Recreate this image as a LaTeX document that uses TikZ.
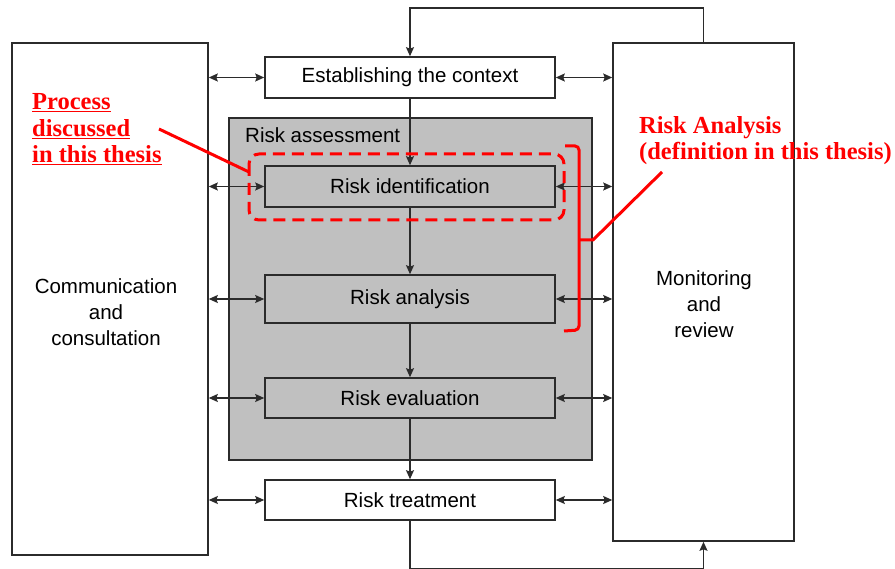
\documentclass[tikz,border=0pt]{standalone}
\usepackage{fontspec}
\setmainfont{Liberation Sans}
\newfontfamily\thesisfont{Liberation Serif}
\usetikzlibrary{arrows.meta}
\definecolor{boxline}{HTML}{2B2B2B}
\definecolor{assessgray}{HTML}{C0C0C0}
\definecolor{notered}{HTML}{FF0000}
\tikzset{
  frame/.style={draw=boxline, line width=1.6pt, fill=white, inner sep=0pt},
  procbox/.style={frame, minimum width=290pt, font=\fontsize{20.5}{24}\selectfont},
  graybox/.style={procbox, fill=assessgray},
  sidetext/.style={align=center, inner sep=0pt, font=\fontsize{20.5}{26}\selectfont},
  flow/.style={draw=boxline, line width=1.5pt, -{Stealth[length=9pt,width=8pt,inset=1.5pt]}},
  both/.style={draw=boxline, line width=1.5pt, {Stealth[length=9pt,width=8pt,inset=1.5pt]}-{Stealth[length=9pt,width=8pt,inset=1.5pt]}},
  redline/.style={draw=notered, line width=3pt},
  rednote/.style={text=notered, inner sep=0pt, align=left, font=\thesisfont\bfseries\fontsize{24.5}{26.5}\selectfont},
}
\begin{document}
\begin{tikzpicture}[x=1pt,y=-1pt]
\useasboundingbox (0,0) rectangle (895,569);
% side boxes
\node[frame, minimum width=196pt, minimum height=512pt] (comm) at (110,299) {};
\node[frame, minimum width=181pt, minimum height=498pt] (mon) at (703.5,292) {};
\node[sidetext, anchor=base] (commtxt) at (106,346) {Communication\\and\\consultation};
\node[sidetext, anchor=base] (montxt) at (704,338) {Monitoring\\and\\review};
% risk assessment area
\node[frame, fill=assessgray, minimum width=363pt, minimum height=342pt] (assess) at (410.5,289) {};
\node[anchor=base west, inner sep=0pt, font=\fontsize{20.5}{24}\selectfont] (assesstxt) at (245,143) {Risk assessment};
% process boxes
\node[procbox, minimum height=41pt] (est) at (410,77.5) {Establishing the context};
\node[graybox, minimum height=41pt] (ident) at (410,186.5) {Risk identification};
\node[graybox, minimum height=48pt] (anal) at (410,299) {Risk analysis};
\node[graybox, minimum height=40pt] (eval) at (410,398) {Risk evaluation};
\node[procbox, minimum height=40pt] (treat) at (410,500) {Risk treatment};
% vertical flow
\draw[flow] (est.south) -- (ident.north);
\draw[flow] (ident.south) -- (anal.north);
\draw[flow] (anal.south) -- (eval.north);
\draw[flow] (eval.south) -- (treat.north);
\draw[flow] (mon.north) -- ++(0,-34) -| (est.north);
\draw[flow] (treat.south) -- ++(0,48) -| (mon.south);
% side connections
\foreach \b in {est,ident,anal,eval,treat}{
  \draw[both] (comm.east |- \b.west) -- (\b.west);
  \draw[both] (\b.east) -- (mon.west |- \b.east);
}
% red annotations
\draw[redline, dash pattern=on 12pt off 7pt, rounded corners=10pt] (249,154) rectangle (564,220);
\draw[redline, rounded corners=4pt] (565,146) -- (579,146) -- (579,330) -- (564,331);
\coordinate (brtip) at (593,240);
\coordinate (ranote) at (662,172);
\draw[redline] (579,240) -- (brtip) -- (ranote);
\node[rednote, anchor=base west] (pnote) at (32,163) {\underline{Process}\\\underline{discussed}\\\underline{in this thesis}};
\coordinate (pnoteend) at (159,129);
\coordinate (pboxend) at (249,172);
\draw[redline] (pnoteend) -- (pboxend);
\node[rednote, anchor=base west] (anote) at (639,160) {Risk Analysis\\(definition in this thesis)};
\end{tikzpicture}
\end{document}
